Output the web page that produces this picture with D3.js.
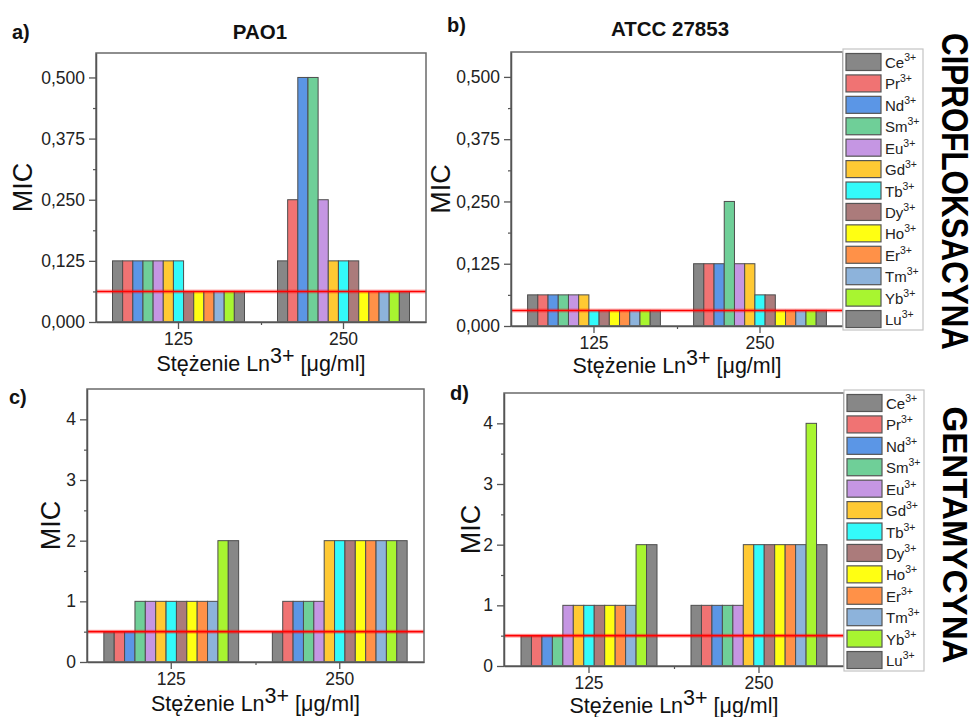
<!DOCTYPE html>
<html><head><meta charset="utf-8">
<script src="https://cdn.jsdelivr.net/npm/d3@7"></script>
<style>
html,body{margin:0;padding:0;background:#fff;}
svg{display:block;font-family:"Liberation Sans",Arial,sans-serif;}
</style></head>
<body>
<svg id="chart" width="974" height="717"></svg>
<script>
// ---------- data ----------
const categories = ["125", "250"];
const ions = ["Ce", "Pr", "Nd", "Sm", "Eu", "Gd", "Tb", "Dy", "Ho", "Er", "Tm", "Yb", "Lu"];
const ionColors = ["#878787", "#f07373", "#5b96e6", "#6fcf98", "#c596e3", "#ffc933", "#33fafa", "#ab7b7b", "#ffff12", "#ff9148", "#8db3db", "#a8f530", "#878787"];

// a) PAO1 – ciprofloksacyna
const ciproPAO1_125 = [0.125, 0.125, 0.125, 0.125, 0.125, 0.125, 0.125, 0.0625, 0.0625, 0.0625, 0.0625, 0.0625, 0.0625];
const ciproPAO1_250 = [0.125, 0.25, 0.5, 0.5, 0.25, 0.125, 0.125, 0.125, 0.0625, 0.0625, 0.0625, 0.0625, 0.0625];
const ciproPAO1_ref = 0.0625;
// b) ATCC 27853 – ciprofloksacyna
const ciproATCC_125 = [0.0625, 0.0625, 0.0625, 0.0625, 0.0625, 0.0625, 0.03125, 0.03125, 0.03125, 0.03125, 0.03125, 0.03125, 0.03125];
const ciproATCC_250 = [0.125, 0.125, 0.125, 0.25, 0.125, 0.125, 0.0625, 0.0625, 0.03125, 0.03125, 0.03125, 0.03125, 0.03125];
const ciproATCC_ref = 0.03125;
// c) PAO1 – gentamycyna
const gentaPAO1_125 = [0.5, 0.5, 0.5, 1, 1, 1, 1, 1, 1, 1, 1, 2, 2];
const gentaPAO1_250 = [0.5, 1, 1, 1, 1, 2, 2, 2, 2, 2, 2, 2, 2];
const gentaPAO1_ref = 0.5;
// d) ATCC 27853 – gentamycyna
const gentaATCC_125 = [0.5, 0.5, 0.5, 0.5, 1, 1, 1, 1, 1, 1, 1, 2, 2];
const gentaATCC_250 = [1, 1, 1, 1, 1, 2, 2, 2, 2, 2, 2, 4, 2];
const gentaATCC_ref = 0.5;

const ciproTicks = [0, 0.125, 0.25, 0.375, 0.5];
const gentaTicks = [0, 1, 2, 3, 4];

// ---------- drawing ----------
const svg = d3.select("#chart");
const FONT = '"Liberation Sans",Arial,sans-serif';

const panels = [
  {lab:"a)", labX:12, labY:39, title:"PAO1", titleX:260, titleY:39,
   left:96, right:426, top:53, bottom:322, ymax:0.55, ticks:ciproTicks, minor:0.0625, fmt:v=>d3.format(".3f")(v).replace(".", ","),
   v125:ciproPAO1_125, v250:ciproPAO1_250, ref:ciproPAO1_ref, micX:32, xtOff:49},
  {lab:"b)", labX:447, labY:32, title:"ATCC 27853", titleX:670, titleY:36,
   left:511, right:843, top:52, bottom:326, ymax:0.55, ticks:ciproTicks, minor:0.0625, fmt:v=>d3.format(".3f")(v).replace(".", ","),
   v125:ciproATCC_125, v250:ciproATCC_250, ref:ciproATCC_ref, micX:450, xtOff:47, legend:true},
  {lab:"c)", labX:9, labY:404, title:null,
   left:87, right:424, top:389, bottom:662, ymax:4.5, ticks:gentaTicks, minor:0.5, fmt:v=>String(v),
   v125:gentaPAO1_125, v250:gentaPAO1_250, ref:gentaPAO1_ref, micX:60, xtOff:48.5},
  {lab:"d)", labX:450, labY:400, title:null,
   left:504, right:844, top:393, bottom:666, ymax:4.5, ticks:gentaTicks, minor:0.5, fmt:v=>String(v),
   v125:gentaATCC_125, v250:gentaATCC_250, ref:gentaATCC_ref, micX:480, xtOff:46.5, legend:true}
];

panels.forEach(p => {
  const g = svg.append("g");
  const x0 = d3.scaleBand().domain(categories).range([p.left, p.right]).paddingInner(0.2).paddingOuter(0.1);
  const x1 = d3.scaleBand().domain(ions).range([0, x0.bandwidth()]).padding(0);
  const xLin = d3.scaleLinear().domain([0, 2]).range([p.left, p.right]);
  const y = d3.scaleLinear().domain([0, p.ymax]).range([p.bottom, p.top]);
  const color = d3.scaleOrdinal().domain(ions).range(ionColors);

  const series = [p.v125, p.v250];

  // bars
  categories.forEach((c, ci) => {
    g.append("g").selectAll("rect").data(series[ci]).join("rect")
      .attr("x", (d, i) => x0(c) + x1(ions[i]))
      .attr("width", x1.bandwidth())
      .attr("y", d => y(d))
      .attr("height", d => y(0) - y(d))
      .attr("fill", (d, i) => color(ions[i]))
      .attr("stroke", "#4d4d4d").attr("stroke-width", 1);
  });

  // reference line
  g.append("line").attr("x1", p.left).attr("x2", p.right).attr("y1", y(p.ref)).attr("y2", y(p.ref))
    .attr("stroke", "#ff0000").attr("stroke-opacity", 0.3).attr("stroke-width", 4);
  g.append("line").attr("x1", p.left).attr("x2", p.right).attr("y1", y(p.ref)).attr("y2", y(p.ref))
    .attr("stroke", "#ff0000").attr("stroke-width", 1.6);

  // frame
  g.append("rect").attr("x", p.left).attr("y", p.top).attr("width", p.right - p.left).attr("height", p.bottom - p.top)
    .attr("fill", "none").attr("stroke", "#6a6a6a").attr("stroke-width", 1.5);

  // y axis major
  const ya = g.append("g").attr("transform", `translate(${p.left},0)`)
    .call(d3.axisLeft(y).tickValues(p.ticks).tickFormat(p.fmt).tickSize(7).tickSizeOuter(0).tickPadding(4));
  ya.select(".domain").attr("stroke", "#555").attr("stroke-width", 1.5);
  ya.selectAll(".tick line").attr("stroke", "#555").attr("stroke-width", 1.3);
  ya.selectAll(".tick text").attr("font-family", FONT).attr("font-size", 17.5).attr("fill", "#222");
  // y axis minor
  const minorVals = d3.range(p.minor, p.ymax, p.minor * 2);
  const ym = g.append("g").attr("transform", `translate(${p.left},0)`)
    .call(d3.axisLeft(y).tickValues(minorVals).tickFormat("").tickSize(3).tickSizeOuter(0));
  ym.select(".domain").remove();
  ym.selectAll(".tick line").attr("stroke", "#555").attr("stroke-width", 1.2);

  // x axis
  const xa = g.append("g").attr("transform", `translate(0,${p.bottom})`)
    .call(d3.axisBottom(x0).tickSize(7).tickSizeOuter(0).tickPadding(4));
  xa.select(".domain").attr("stroke", "#555").attr("stroke-width", 1.5);
  xa.selectAll(".tick line").attr("stroke", "#555").attr("stroke-width", 1.3);
  xa.selectAll(".tick text").attr("font-family", FONT).attr("font-size", 17.5).attr("fill", "#222");
  const xm = g.append("g").attr("transform", `translate(0,${p.bottom})`)
    .call(d3.axisBottom(xLin).tickValues([1]).tickFormat("").tickSize(3).tickSizeOuter(0));
  xm.select(".domain").remove();
  xm.selectAll(".tick line").attr("stroke", "#555").attr("stroke-width", 1.2);

  // x title
  const xt = g.append("text").attr("x", (p.left + p.right) / 2).attr("y", p.bottom + p.xtOff)
    .attr("text-anchor", "middle").attr("font-family", FONT).attr("font-size", 21.5).attr("fill", "#111");
  xt.append("tspan").text("Stężenie Ln");
  xt.append("tspan").attr("dy", -8).text("3+");
  xt.append("tspan").attr("dy", 8).text(" [μg/ml]");

  // y title
  g.append("text").attr("transform", `translate(${p.micX},${(p.top + p.bottom) / 2}) rotate(-90)`)
    .attr("text-anchor", "middle").attr("font-family", FONT).attr("font-size", 27).attr("fill", "#111").text("MIC");

  // panel label
  g.append("text").attr("x", p.labX).attr("y", p.labY).attr("font-family", FONT).attr("font-weight", "bold")
    .attr("font-size", 20).attr("fill", "#111").text(p.lab);
  if (p.title) {
    g.append("text").attr("x", p.titleX).attr("y", p.titleY).attr("text-anchor", "middle").attr("font-family", FONT)
      .attr("font-weight", "bold").attr("font-size", 20.5).attr("fill", "#111").text(p.title);
  }

  // legend
  if (p.legend) {
    const lx = p.right, ly = p.top - 3;
    const lg = g.append("g");
    lg.append("rect").attr("x", lx).attr("y", ly).attr("width", 80).attr("height", 281)
      .attr("fill", "#fff").attr("stroke", "#c4c4c4").attr("stroke-width", 1.2);
    const rowH = 21.42;
    ions.forEach((ion, i) => {
      const yy = ly + 4.5 + i * rowH;
      lg.append("rect").attr("x", lx + 3).attr("y", yy).attr("width", 35).attr("height", 17)
        .attr("fill", color(ion)).attr("stroke", "#555").attr("stroke-width", 1.2);
      const t = lg.append("text").attr("x", lx + 42).attr("y", yy + 14.5).attr("font-family", FONT)
        .attr("font-size", 15).attr("fill", "#222");
      t.append("tspan").text(ion);
      t.append("tspan").attr("dy", -7).attr("font-size", 10.5).text("3+");
    });
  }
});

// antibiotic labels
svg.append("text").attr("transform", "translate(942,191.5) rotate(90)").attr("text-anchor", "middle")
  .attr("font-family", FONT).attr("font-weight", "bold").attr("font-size", 37).attr("fill", "#000")
  .attr("textLength", 317).attr("lengthAdjust", "spacingAndGlyphs").text("CIPROFLOKSACYNA");
svg.append("text").attr("transform", "translate(943,535) rotate(90)").attr("text-anchor", "middle")
  .attr("font-family", FONT).attr("font-weight", "bold").attr("font-size", 35).attr("fill", "#000")
  .attr("textLength", 257).attr("lengthAdjust", "spacingAndGlyphs").text("GENTAMYCYNA");
</script>
</body></html>
